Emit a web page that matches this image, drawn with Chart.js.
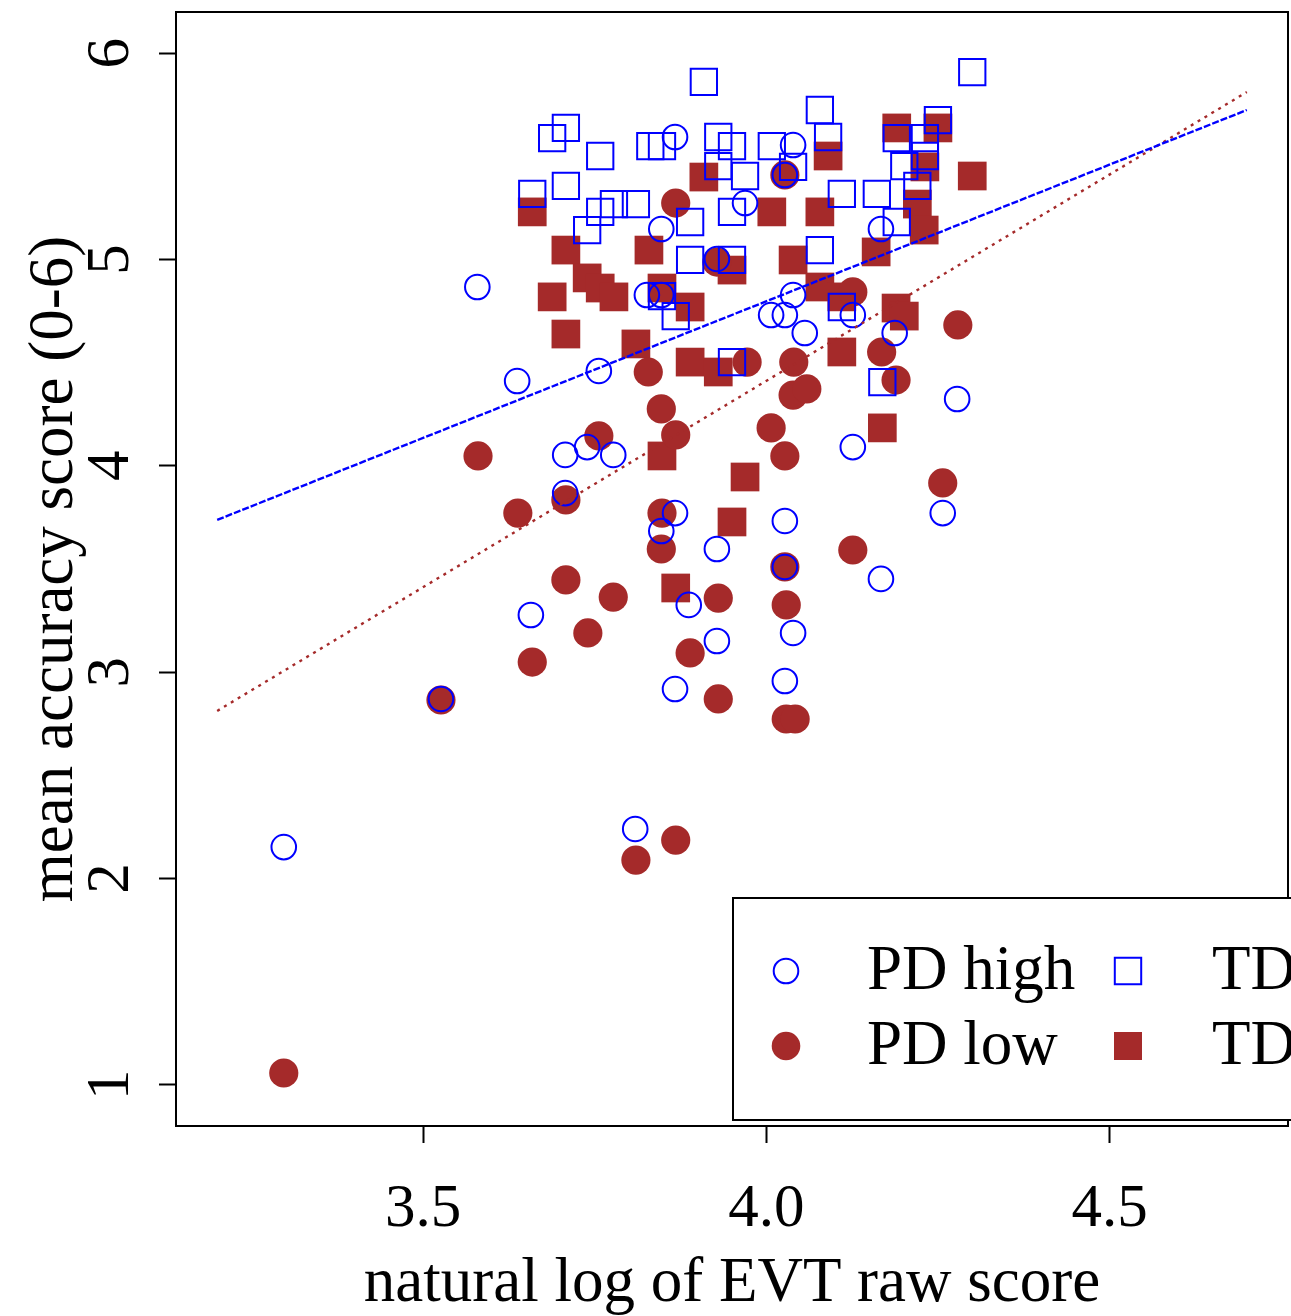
<!DOCTYPE html>
<html><head><meta charset="utf-8">
<script src="https://cdn.jsdelivr.net/npm/chart.js@4/dist/chart.umd.min.js"></script>
<style>html,body{margin:0;padding:0;background:#fff;}#wrap{width:1291px;height:1316px;position:relative;}</style>
</head><body><div id="wrap"><canvas id="c" width="1291" height="1316"></canvas></div>
<script>
// ---- data ----
const xTicks = [3.5, 4.0, 4.5];
const xTickLabels = ['3.5', '4.0', '4.5'];
const yTicks = [1, 2, 3, 4, 5, 6];
const yTickLabels = ['1', '2', '3', '4', '5', '6'];

const seriesLabels = ['PD high', 'PD low', 'TD high', 'TD low'];

const pdHighX = [3.297,3.526,3.579,3.637,3.657,3.707,3.707,3.739,3.756,3.777,3.809,3.826,3.847,3.847,3.867,3.847,3.867,3.867,3.887,3.928,3.928,3.928,3.969,4.027,4.039,4.007,4.027,4.039,4.056,4.027,4.027,4.027,4.039,4.126,4.126,4.187,4.167,4.167,4.257,4.278];
const pdHighY = [2.152,2.870,4.867,4.411,3.277,4.053,3.868,4.091,4.460,4.053,2.240,4.828,4.828,5.148,5.594,3.684,3.771,2.918,3.326,3.597,3.151,5.003,5.274,5.410,5.555,4.731,4.731,4.828,4.644,3.733,3.510,2.957,3.190,4.731,4.091,4.644,5.148,3.452,3.771,4.324];

const pdLowX = [3.297,3.526,3.580,3.638,3.659,3.708,3.708,3.740,3.756,3.777,3.810,3.828,3.847,3.848,3.847,3.868,3.868,3.868,3.889,3.928,3.930,3.930,3.972,4.007,4.027,4.027,4.027,4.029,4.029,4.042,4.039,4.059,4.040,4.126,4.126,4.168,4.189,4.257,4.279];
const pdLowY = [1.057,2.865,4.048,3.771,3.049,3.835,3.447,3.190,4.145,3.364,2.089,4.455,4.276,3.771,3.597,4.150,2.186,5.274,3.093,4.988,3.359,2.870,4.503,4.184,5.410,4.048,3.510,3.326,2.773,2.773,4.343,4.373,4.503,4.843,3.592,4.552,4.416,3.917,4.683];

const tdHighX = [3.909,3.708,3.688,3.758,3.831,3.848,3.659,3.708,3.778,3.810,3.758,3.739,3.889,3.889,3.848,3.868,4.300,4.078,3.930,3.950,4.008,4.090,4.190,4.231,4.250,4.201,4.231,4.220,3.930,3.969,4.039,3.950,4.110,4.161,4.190,4.078,3.950,4.110,3.950,4.169];
const tdHighY = [5.861,5.638,5.589,5.502,5.550,5.550,5.318,5.357,5.269,5.269,5.231,5.143,5.182,4.998,4.823,4.726,5.909,5.725,5.594,5.550,5.550,5.594,5.589,5.589,5.676,5.453,5.502,5.357,5.453,5.405,5.449,5.231,5.318,5.318,5.182,5.046,4.998,4.770,4.503,4.406];

const tdLowX = [3.659,3.708,3.739,3.758,3.778,3.688,3.708,3.810,3.829,3.848,3.889,3.909,4.008,4.078,4.190,4.250,4.090,4.231,4.300,4.220,4.230,4.160,4.039,3.950,4.078,4.110,4.189,4.201,4.110,3.889,3.930,4.169,3.969,3.950,3.848,3.868];
const tdLowY = [5.231,5.046,4.911,4.862,4.819,4.819,4.639,4.591,5.046,4.862,4.770,5.400,5.231,5.231,5.638,5.638,5.502,5.449,5.405,5.269,5.143,5.037,4.998,4.949,4.867,4.819,4.765,4.726,4.552,4.503,4.455,4.184,3.946,3.728,4.048,3.408];

const fitX = [3.2, 4.7];
const highFitY = [3.738, 5.725];
const lowFitY = [2.812, 5.812];

// ---- styling ----
const BLUE = '#0000FF';
const BROWN = '#A52A2A';
const FONT = "'Liberation Serif', 'Times New Roman', serif";

const pts = (xs, ys) => xs.map((x, i) => ({x: x, y: ys[i]}));

const datasets = [
  {label: 'high fit', data: pts(fitX, highFitY), showLine: true, borderColor: BLUE, borderWidth: 2.4, borderDash: [7, 2], pointRadius: 0, fill: false, isFit: true},
  {label: 'low fit', data: pts(fitX, lowFitY), showLine: true, borderColor: BROWN, borderWidth: 2.4, borderDash: [3, 5], pointRadius: 0, fill: false, isFit: true},
  {label: seriesLabels[0], data: pts(pdHighX, pdHighY), pointStyle: 'circle', pointRadius: 12.3, pointBorderWidth: 2, pointBorderColor: BLUE, pointBackgroundColor: 'rgba(0,0,0,0)', borderColor: BLUE, backgroundColor: 'rgba(0,0,0,0)', legendRow: 0, legendCol: 0, filled: false},
  {label: seriesLabels[2], data: pts(tdHighX, tdHighY), pointStyle: 'rect', pointRadius: 18.6, pointBorderWidth: 2, pointBorderColor: BLUE, pointBackgroundColor: 'rgba(0,0,0,0)', borderColor: BLUE, backgroundColor: 'rgba(0,0,0,0)', legendRow: 0, legendCol: 1, filled: false},
  {label: seriesLabels[1], data: pts(pdLowX, pdLowY), pointStyle: 'circle', pointRadius: 14.6, pointBorderWidth: 0, pointBackgroundColor: BROWN, borderColor: BROWN, backgroundColor: BROWN, legendRow: 1, legendCol: 0, filled: true},
  {label: seriesLabels[3], data: pts(tdLowX, tdLowY), pointStyle: 'rect', pointRadius: 20.3, pointBorderWidth: 0, pointBackgroundColor: BROWN, borderColor: BROWN, backgroundColor: BROWN, legendRow: 1, legendCol: 1, filled: true}
];

const boxPlugin = {
  id: 'boxPlugin',
  afterDraw(chart) {
    const {ctx, chartArea: a} = chart;
    ctx.save();
    ctx.strokeStyle = '#000';
    ctx.lineWidth = 2;
    ctx.strokeRect(a.left, a.top, a.right - a.left, a.bottom - a.top);
    ctx.restore();
  }
};

const legendPlugin = {
  id: 'rLegend',
  afterDraw(chart) {
    const ctx = chart.ctx;
    const box = {left: 733, top: 898, right: 1300, bottom: 1120};
    ctx.save();
    ctx.fillStyle = '#fff';
    ctx.fillRect(box.left, box.top, box.right - box.left, box.bottom - box.top);
    ctx.strokeStyle = '#000';
    ctx.lineWidth = 2;
    ctx.strokeRect(box.left, box.top, box.right - box.left, box.bottom - box.top);
    const rowsY = [971, 1046];
    const symX = [786, 1128];
    const textX = [867, 1212];
    ctx.font = '63px ' + FONT;
    ctx.textBaseline = 'alphabetic';
    ctx.textAlign = 'left';
    chart.data.datasets.forEach(ds => {
      if (ds.isFit) return;
      const y = rowsY[ds.legendRow];
      const x = symX[ds.legendCol];
      ctx.beginPath();
      if (ds.pointStyle === 'circle') {
        const r = ds.filled ? 14.3 : 12.3;
        ctx.arc(x, y, r, 0, Math.PI * 2);
      } else {
        const h = ds.filled ? 14 : 13.2;
        ctx.rect(x - h, y - h, 2 * h, 2 * h);
      }
      if (ds.filled) { ctx.fillStyle = ds.pointBackgroundColor; ctx.fill(); }
      else { ctx.strokeStyle = ds.pointBorderColor; ctx.lineWidth = 2; ctx.stroke(); }
      ctx.fillStyle = '#000';
      ctx.fillText(ds.label, textX[ds.legendCol], y + 18);
    });
    ctx.restore();
  }
};

const zeroPad = () => ({left: 0, top: 0, right: 0, bottom: 0});
const fixScale = (s, key, size) => {
  s[key] = size;
  s.paddingLeft = 0; s.paddingRight = 0; s.paddingTop = 0; s.paddingBottom = 0;
  s.getPadding = zeroPad;
};

new Chart(document.getElementById('c'), {
  type: 'scatter',
  data: {datasets: datasets},
  options: {
    responsive: false,
    animation: false,
    events: [],
    layout: {autoPadding: false, padding: {top: 12, right: 3, left: 0, bottom: 0}},
    plugins: {legend: {display: false}, tooltip: {enabled: false}},
    scales: {
      x: {
        type: 'linear', position: 'bottom', min: 3.14, max: 4.76,
        afterFit: s => fixScale(s, 'height', 190),
        afterBuildTicks: s => { s.ticks = xTicks.map(v => ({value: v})); },
        grid: {display: true, drawOnChartArea: false, drawTicks: true, tickLength: 17, tickWidth: 2, tickColor: '#000', color: '#000'},
        border: {display: true, color: '#000', width: 2},
        ticks: {autoSkip: false, maxRotation: 0, minRotation: 0, color: '#000', padding: 36,
          font: {family: FONT, size: 61, lineHeight: 1},
          callback: (v) => { const i = xTicks.indexOf(v); return i >= 0 ? xTickLabels[i] : ''; }},
        title: {display: true, text: 'natural log of EVT raw score', color: '#000',
          font: {family: FONT, size: 63, lineHeight: 1}, padding: {top: 0, bottom: 0}}
      },
      y: {
        type: 'linear', position: 'left', min: 0.8, max: 6.2,
        afterFit: s => fixScale(s, 'width', 176),
        afterBuildTicks: s => { s.ticks = yTicks.map(v => ({value: v})); },
        grid: {display: true, drawOnChartArea: false, drawTicks: true, tickLength: 17, tickWidth: 2, tickColor: '#000', color: '#000'},
        border: {display: true, color: '#000', width: 2},
        ticks: {autoSkip: false, minRotation: 90, maxRotation: 90, crossAlign: 'center', color: '#000', padding: 32,
          font: {family: FONT, size: 61, lineHeight: 1},
          callback: (v) => { const i = yTicks.indexOf(v); return i >= 0 ? yTickLabels[i] : ''; }},
        title: {display: true, text: 'mean accuracy score (0-6)', color: '#000',
          font: {family: FONT, size: 63, lineHeight: 1}, padding: {top: 24, bottom: 0}}
      }
    }
  },
  plugins: [boxPlugin, legendPlugin]
});
</script>
</body></html>
